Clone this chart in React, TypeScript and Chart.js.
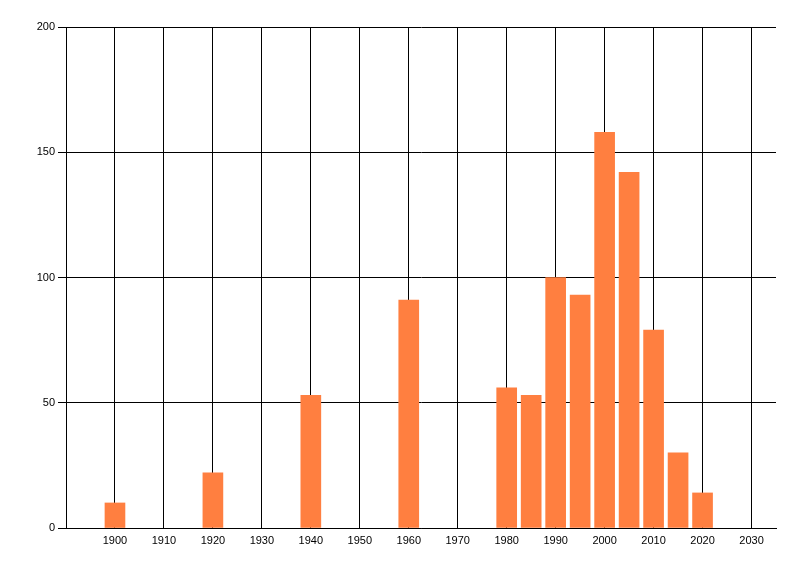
import React, { useEffect, useRef } from "react";
import { Chart, registerables } from "chart.js";

Chart.register(...registerables);

const years = [1900, 1920, 1940, 1960, 1980, 1985, 1990, 1995, 2000, 2005, 2010, 2015, 2020];
const counts = [10, 22, 53, 91, 56, 53, 100, 93, 158, 142, 79, 30, 14];
const xTickValues = [1900, 1910, 1920, 1930, 1940, 1950, 1960, 1970, 1980, 1990, 2000, 2010, 2020, 2030];
const yTickValues = [0, 50, 100, 150, 200];

export default function App() {
  const ref = useRef<HTMLCanvasElement | null>(null);

  useEffect(() => {
    if (!ref.current) return;
    const font = { family: "'Liberation Sans', Arial, sans-serif", size: 11 };
    const chart = new Chart(ref.current, {
      type: "bar",
      data: {
        datasets: [
          {
            data: years.map((y, i) => ({ x: y, y: counts[i] })),
            backgroundColor: "#FF7F40",
            borderWidth: 0,
            barThickness: 20,
          },
        ],
      },
      options: {
        animation: false,
        responsive: false,
        maintainAspectRatio: false,
        devicePixelRatio: 1,
        layout: { padding: { left: 0, top: 27, right: 24, bottom: 0 } },
        plugins: { legend: { display: false }, tooltip: { enabled: false } },
        scales: {
          x: {
            type: "linear",
            offset: false,
            min: 1890,
            max: 2035,
            afterBuildTicks: (scale: any) => {
              scale.ticks = xTickValues.map((v) => ({ value: v }));
            },
            afterFit: (scale: any) => {
              scale.height = 48;
            },
            ticks: {
              color: "#000",
              font,
              padding: 6,
              maxRotation: 0,
              autoSkip: false,
              callback: (v: any) => String(v),
            },
            grid: {
              color: "#000",
              lineWidth: 1,
              drawTicks: false,
              offset: false,
            },
            border: { display: true, color: "#000", width: 1 },
          },
          y: {
            min: 0,
            max: 200,
            afterBuildTicks: (scale: any) => {
              scale.ticks = yTickValues.map((v) => ({ value: v }));
            },
            afterFit: (scale: any) => {
              scale.width = 66;
            },
            ticks: {
              color: "#000",
              font,
              padding: 3,
              callback: (v: any) => String(v),
            },
            grid: {
              color: "#000",
              lineWidth: 1,
              drawTicks: true,
              tickLength: 8,
              tickColor: "#000",
            },
            border: { display: true, color: "#000", width: 1 },
          },
        },
      },
    });
    return () => chart.destroy();
  }, []);

  return (
    <div style={{ position: "fixed", left: 0, top: 0, width: 800, height: 576, background: "#fff" }}>
      <canvas ref={ref} width={800} height={576} style={{ width: 800, height: 576, display: "block" }} />
    </div>
  );
}
